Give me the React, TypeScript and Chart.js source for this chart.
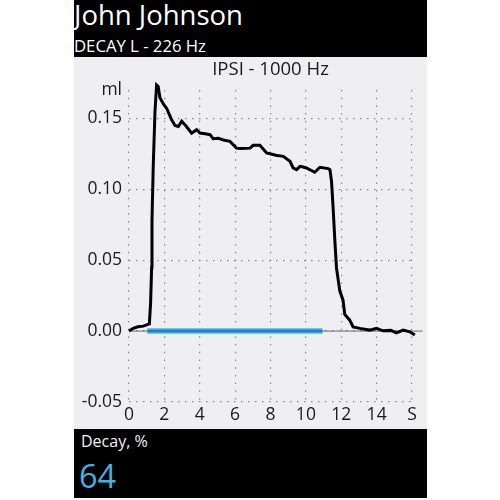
import React, { useEffect, useRef } from "react";
import { Chart, registerables } from "chart.js";

Chart.register(...registerables);

// Trace: time (s) and volume (ml)
const traceTime = [
  0.0, 0.24, 0.5, 0.81, 1.15, 1.22, 1.28, 1.3, 1.37, 1.47, 1.56, 1.65, 1.75, 1.95, 2.13, 2.41, 2.6, 2.79,
  2.98, 3.2, 3.54, 3.82, 4.01, 4.39, 4.58, 4.76, 5.05, 5.4, 5.71, 6.08, 6.3, 6.84, 7.02, 7.4, 7.78, 8.3,
  8.72, 9.1, 9.28, 9.47, 9.66, 9.75, 10.03, 10.5, 10.79, 11.26, 11.36, 11.45, 11.54, 11.64, 11.73, 11.92,
  12.1, 12.2, 12.48, 12.67, 13.05, 13.6, 13.99, 14.36, 14.8, 15.12, 15.5, 15.88, 16.16, 16.34, 16.63,
];
const traceVolume = [
  0.0, 0.002, 0.003, 0.0035, 0.005, 0.0195, 0.045, 0.078, 0.116, 0.155, 0.1735, 0.1725, 0.1645, 0.16,
  0.157, 0.149, 0.145, 0.1443, 0.148, 0.145, 0.1396, 0.142, 0.1396, 0.139, 0.1385, 0.1356, 0.136, 0.1345,
  0.1338, 0.129, 0.1287, 0.129, 0.131, 0.131, 0.1256, 0.124, 0.1232, 0.1197, 0.115, 0.1138, 0.116, 0.116,
  0.115, 0.112, 0.1155, 0.1146, 0.1138, 0.1056, 0.0868, 0.0634, 0.0446, 0.0282, 0.0218, 0.0118, 0.0077,
  0.003, 0.0019, 0.0007, 0.0019, 0.0002, 0.0005, -0.0012, 0.0007, -0.0005, -0.0028, -0.0005, 0.0019,
];
// Stimulus bar (s)
const stimulusStart = 1.03;
const stimulusEnd = 10.94;
// Zero reference line (s)
const baselineStart = 0;
const baselineEnd = 16.6;
// Axis ticks
const xTickValues = [0, 2, 4, 6, 8, 10, 12, 14, 16];
const xTickLabels = ["0", "2", "4", "6", "8", "10", "12", "14", "S"];
const yTickValues = [-0.05, 0, 0.05, 0.1, 0.15, 0.17];
const yTickLabels = ["-0.05", "0.00", "0.05", "0.10", "0.15", "ml"];

const patientName = "John Johnson";
const testName = "DECAY L - 226 Hz";
const chartTitle = "IPSI - 1000 Hz";
const decayLabel = "Decay, %";
const decayValue = "64";

const FONT = "'Open Sans', 'Noto Sans', sans-serif";

export default function App() {
  const ref = useRef<HTMLCanvasElement | null>(null);

  useEffect(() => {
    document.body.style.margin = "0";
    document.body.style.background = "#ffffff";
    if (!ref.current) return;
    const trace = traceTime.map((t, i) => ({ x: t, y: traceVolume[i] }));
    const stim = [
      { x: stimulusStart, y: 0 },
      { x: stimulusEnd, y: 0 },
    ];
    const base = [
      { x: baselineStart, y: 0 },
      { x: baselineEnd, y: 0 },
    ];
    const chart = new Chart(ref.current, {
      type: "line",
      data: {
        datasets: [
          { data: trace, borderColor: "#000000", borderWidth: 3, pointRadius: 0, tension: 0, order: 0, clip: false },
          { data: stim, borderColor: "#2480bd", borderWidth: 3, pointRadius: 0, order: 1, borderCapStyle: "butt" },
          { data: stim, borderColor: "#6ccaf0", borderWidth: 6, pointRadius: 0, order: 2, borderCapStyle: "butt" },
          { data: base, borderColor: "#6b6b6b", borderWidth: 1, pointRadius: 0, order: 3, clip: false },
        ],
      },
      options: {
        animation: false,
        responsive: false,
        maintainAspectRatio: false,
        layout: { padding: { left: 0, right: 15, top: 0, bottom: 0 } },
        plugins: {
          legend: { display: false },
          tooltip: { enabled: false },
          title: {
            display: true,
            text: chartTitle,
            fullSize: false,
            color: "#1a1a1a",
            font: { family: FONT, size: 18.5, weight: "normal", lineHeight: 1.2 },
            padding: { top: 2, bottom: 8.8 },
          },
        },
        scales: {
          x: {
            type: "linear",
            min: 0,
            max: 16,
            afterBuildTicks: (scale: any) => {
              scale.ticks = xTickValues.map((v) => ({ value: v }));
            },
            afterFit: (scale: any) => {
              scale.height = 27;
            },
            ticks: {
              padding: 3,
              color: "#1a1a1a",
              font: { family: FONT, size: 17.5 },
              maxRotation: 0,
              callback: (value: any) => {
                const i = xTickValues.indexOf(Number(value));
                return i >= 0 ? xTickLabels[i] : "";
              },
            },
            grid: { color: "#8a8a8a", lineWidth: 1.2, drawTicks: false },
            border: { display: false, dash: [1.5, 6.2] },
          },
          y: {
            type: "linear",
            min: -0.05,
            max: 0.17,
            afterBuildTicks: (scale: any) => {
              scale.ticks = yTickValues.map((v) => ({ value: v }));
            },
            afterFit: (scale: any) => {
              scale.width = 55;
            },
            ticks: {
              padding: 7,
              color: "#1a1a1a",
              font: { family: FONT, size: 17.5 },
              callback: (value: any) => {
                const v = Number(value);
                const i = yTickValues.findIndex((t) => Math.abs(t - v) < 1e-6);
                return i >= 0 ? yTickLabels[i] : "";
              },
            },
            grid: {
              drawTicks: false,
              lineWidth: 1.2,
              color: (ctx: any) => (ctx.tick && ctx.tick.value > 0.16 ? "rgba(0,0,0,0)" : "#8a8a8a"),
            },
            border: { display: false, dash: [1.5, 5.5] },
          },
        },
      },
    });
    return () => chart.destroy();
  }, []);

  return (
    <div style={{ position: "relative", width: 500, height: 500, background: "#ffffff", fontFamily: FONT }}>
      <div style={{ position: "absolute", left: 74, top: 0, width: 353, height: 57, background: "#000" }}>
        <div style={{ position: "absolute", left: 0, top: 1, fontSize: 27.5, lineHeight: 1, color: "#fff", whiteSpace: "nowrap" }}>
          {patientName}
        </div>
        <div style={{ position: "absolute", left: 0, top: 37.5, fontSize: 16.7, lineHeight: 1, color: "#fff", whiteSpace: "nowrap" }}>
          {testName}
        </div>
      </div>
      <div style={{ position: "absolute", left: 74, top: 57, width: 353, height: 372, background: "#efeef1" }}>
        <canvas ref={ref} width={353} height={372} style={{ display: "block" }} />
      </div>
      <div style={{ position: "absolute", left: 74, top: 429, width: 353, height: 69, background: "#000" }}>
        <div style={{ position: "absolute", left: 7, top: 4, fontSize: 16, lineHeight: 1, color: "#f2f2f2", whiteSpace: "nowrap" }}>
          {decayLabel}
        </div>
        <div style={{ position: "absolute", left: 5, top: 31, fontSize: 32.5, lineHeight: 1, color: "#46b2e2", whiteSpace: "nowrap" }}>
          {decayValue}
        </div>
      </div>
    </div>
  );
}
